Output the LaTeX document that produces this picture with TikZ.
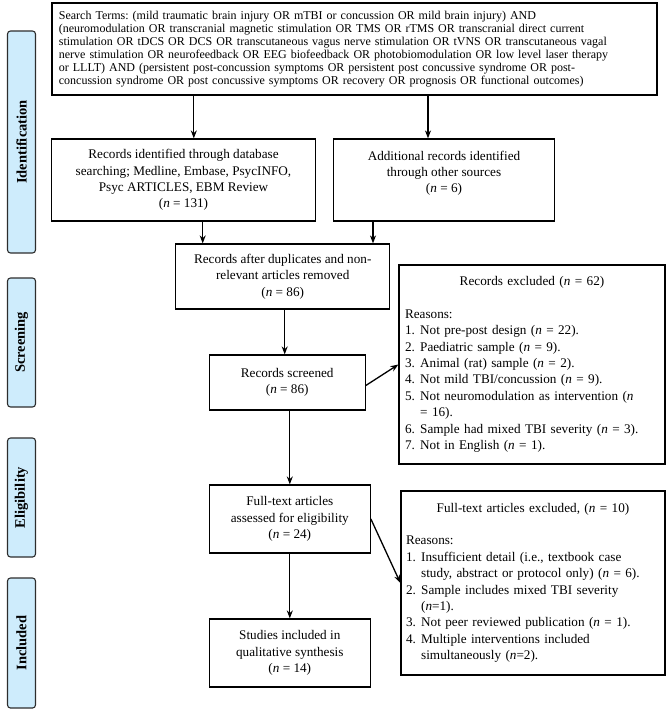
\documentclass[tikz,border=0pt]{standalone}
\usepackage{fontspec}
\setmainfont{Liberation Serif}
\usetikzlibrary{arrows.meta}
\definecolor{sidefill}{RGB}{206,236,252}
\definecolor{sidedraw}{RGB}{45,45,45}
\newcommand\li[2]{\par\hangindent=1.15em\hangafter=1\noindent\makebox[1.15em][l]{#1}#2}
\newcommand\nn{\textit{n}}
\frenchspacing
\begin{document}
\begin{tikzpicture}[x=1pt,y=-1pt,
  box/.style={draw, line width=1.2pt, inner sep=0pt, align=center,
    font=\fontsize{13.2}{16.4}\selectfont\frenchspacing},
  side/.style={draw=sidedraw, fill=sidefill, line width=1.1pt, rounded corners=3pt,
    rotate=90, minimum height=28pt, inner sep=0pt,
    font=\fontsize{14.5}{16}\selectfont\bfseries},
  arr/.style={-{Stealth[length=8pt,width=6pt]}, line width=1.3pt}]
\useasboundingbox (0,0) rectangle (669,710);

% side labels
\node[side, minimum width=222pt] (sid) at (21.5,142) {Identification};
\node[side, minimum width=129pt] (ssc) at (21.5,342.5) {Screening};
\node[side, minimum width=119pt] (sel) at (21.5,497.5) {Eligibility};
\node[side, minimum width=130pt] (sin) at (21.5,643) {Included};

% boxes
\node[box, minimum width=605pt, minimum height=92pt, text width=591pt, align=left,
  inner ysep=5pt, font=\fontsize{12}{13}\selectfont\frenchspacing] (search) at (354.4,49)
 {Search Terms: (mild traumatic brain injury OR mTBI or concussion OR mild brain injury) AND\\
 (neuromodulation OR transcranial magnetic stimulation OR TMS OR rTMS OR transcranial direct current\\
 stimulation OR tDCS OR DCS OR transcutaneous vagus nerve stimulation OR tVNS OR transcutaneous vagal\\
 nerve stimulation OR neurofeedback OR EEG biofeedback OR photobiomodulation OR low level laser therapy\\
 or LLLT) AND (persistent post-concussion symptoms OR persistent post concussive syndrome OR post-\\
 concussion syndrome OR post concussive symptoms OR recovery OR prognosis OR functional outcomes)};

\node[box, minimum width=264pt, minimum height=82pt] (ident) at (183.5,180)
 {Records identified through database\\searching; Medline, Embase, PsycINFO,\\Psyc ARTICLES, EBM Review\\(\nn{} = 131)};
\node[box, minimum width=221pt, minimum height=82pt] (addl) at (444,180)
 {Additional records identified\\through other sources\\(\nn{} = 6)\\\mbox{}};

\node[box, minimum width=214pt, minimum height=65pt] (dup) at (282.7,276.5)
 {Records after duplicates and non-\\relevant articles removed\\(\nn{} = 86)};

\node[box, minimum width=156pt, minimum height=55pt] (scr) at (287.2,382.5)
 {Records screened\\(\nn{} = 86)};

\node[box, minimum width=266pt, minimum height=199pt, text width=254pt, align=left] (excl) at (532,364.5)
 {\makebox[\linewidth]{Records excluded (\nn{} = 62)}\par\vspace{16pt}
 \noindent Reasons:
 \li{1.}{Not pre-post design (\nn{} = 22).}
 \li{2.}{Paediatric sample (\nn{} = 9).}
 \li{3.}{Animal (rat) sample (\nn{} = 2).}
 \li{4.}{Not mild TBI/concussion (\nn{} = 9).}
 \li{5.}{Not neuromodulation as intervention (\nn\newline = 16).}
 \li{6.}{Sample had mixed TBI severity (\nn{} = 3).}
 \li{7.}{Not in English (\nn{} = 1).}\par};

\node[box, minimum width=161pt, minimum height=68pt] (full) at (289.8,519)
 {Full-text articles\\assessed for eligibility\\(\nn{} = 24)};

\node[box, minimum width=264pt, minimum height=184pt, text width=254pt, align=left] (ftex) at (533,583)
 {\makebox[\linewidth]{Full-text articles excluded, (\nn{} = 10)}\par\vspace{16pt}
 \noindent Reasons:
 \li{1.}{Insufficient detail (i.e., textbook case\newline study, abstract or protocol only) (\nn{} = 6).}
 \li{2.}{Sample includes mixed TBI severity\newline (\nn=1).}
 \li{3.}{Not peer reviewed publication (\nn{} = 1).}
 \li{4.}{Multiple interventions included\newline simultaneously (\nn=2).}\par};

\node[box, minimum width=161pt, minimum height=68pt] (stud) at (289.8,653)
 {Studies included in\\qualitative synthesis\\(\nn{} = 14)};

% connectors
\draw[arr] ([xshift=10.3pt]ident.north |- search.south) -- ([xshift=10.3pt]ident.north);
\draw[arr] ([xshift=-16pt]addl.north |- search.south) -- ([xshift=-16pt]addl.north);
\draw[arr] ([xshift=19.2pt]ident.south) -- ([xshift=19.2pt]ident.south |- dup.north);
\draw[arr] ([xshift=-71pt]addl.south) -- ([xshift=-71pt]addl.south |- dup.north);
\draw[arr] ([xshift=2pt]dup.south) -- ([xshift=2pt]dup.south |- scr.north);
\draw[arr] ([yshift=-3pt]scr.east) -- (excl.west);
\draw[arr] (scr.south -| full.north) -- (full.north);
\draw[arr] (full.east) -- (ftex.west);
\draw[arr] (full.south) -- (stud.north);
\end{tikzpicture}
\end{document}
